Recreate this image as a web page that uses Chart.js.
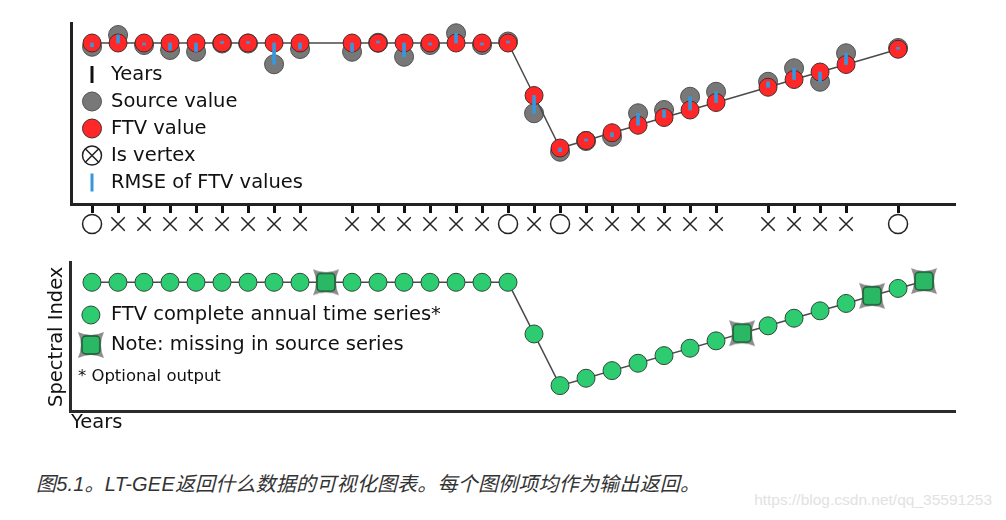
<!DOCTYPE html>
<html>
<head>
<meta charset="utf-8">
<script src="https://cdn.jsdelivr.net/npm/chart.js@4.4.1/dist/chart.umd.min.js"></script>
<style>
  html, body { margin: 0; padding: 0; background: #fff; }
  body { width: 1006px; height: 520px; position: relative; overflow: hidden; }
  #topChart { position: absolute; left: 0; top: 0; }
  #bottomChart { position: absolute; left: 0; top: 248px; }
  .caption {
    position: absolute; left: 36px; top: 472px; white-space: nowrap; letter-spacing: 0.2px;
    font: italic 20px/24px "Liberation Sans", Arial, "Noto Sans CJK SC", sans-serif; color: #333;
  }
  .watermark {
    position: absolute; right: 14px; top: 490px; white-space: nowrap;
    font: 15.5px/19px "Liberation Sans", Arial, sans-serif; color: #e2e2e2;
  }
</style>
</head>
<body>
<canvas id="topChart" width="1006" height="248"></canvas>
<canvas id="bottomChart" width="1006" height="192"></canvas>
<div class="caption">图5.1。LT-GEE返回什么数据的可视化图表。每个图例项均作为输出返回。</div>
<div class="watermark">https://blog.csdn.net/qq_35591253</div>
<script>
// --- data (spectral index x1000) ---
const YEARS = [1984, 1985, 1986, 1987, 1988, 1989, 1990, 1991, 1992, 1993, 1994,
               1995, 1996, 1997, 1998, 1999, 2000, 2001, 2002, 2003, 2004, 2005,
               2006, 2007, 2008, 2009, 2010, 2011, 2012, 2013, 2014, 2015, 2016];
// null = year missing in the source series
const SOURCE_VALUES = [785, 832, 792, 772, 765, 798, 798, 715, 776, null, 765,
                       801, 745, 792, 839, 792, 806, 519, 365, 408, 425, 519,
                       532, 585, 605, null, 645, 699, 645, 759, null, 780, null];
const FTV_VALUES = [800, 800, 800, 800, 800, 800, 800, 800, 800, 800, 800,
                    800, 800, 800, 800, 800, 800, 590, 380, 410, 441, 471,
                    502, 532, 562, 593, 623, 654, 684, 714, 745, 775, 805];
const VERTEX_YEARS = [1984, 2000, 2002, 2015];

const FONT = '"DejaVu Sans", Verdana, sans-serif';
const TEXT = '#111';
const AXIS = '#222';

const hasSource = yr => {
  const i = YEARS.indexOf(yr);
  return i >= 0 && SOURCE_VALUES[i] !== null;
};

// grey concave star with a green square on it: year filled in by FTV only
function makeMissingMarker() {
  const c = document.createElement('canvas');
  c.width = 28; c.height = 28;
  const g = c.getContext('2d');
  const m = 14, r = 13, k = 7;
  g.fillStyle = 'rgba(120,120,120,0.85)';
  g.beginPath();
  g.moveTo(m - r, m - r);
  g.quadraticCurveTo(m, m - k, m + r, m - r);
  g.quadraticCurveTo(m + k, m, m + r, m + r);
  g.quadraticCurveTo(m, m + k, m - r, m + r);
  g.quadraticCurveTo(m - k, m, m - r, m - r);
  g.fill();
  g.beginPath();
  g.roundRect(m - 9, m - 9, 18, 18, 4);
  g.fillStyle = '#2ab865';
  g.fill();
  g.lineWidth = 1.5;
  g.strokeStyle = '#1e5a35';
  g.stroke();
  return c;
}
const missingMarker = makeMissingMarker();

// --- top chart: source, FTV, RMSE and vertices ---
const topSource = [], topFtv = [], topRmse = [], topVertex = [];
YEARS.forEach((yr, i) => {
  if (SOURCE_VALUES[i] === null) return;
  topSource.push({ x: yr, y: SOURCE_VALUES[i] });
  topFtv.push({ x: yr, y: FTV_VALUES[i] });
  topRmse.push({ x: yr, y: [FTV_VALUES[i], SOURCE_VALUES[i]] });
  topVertex.push({ x: yr, y: 'vertex' });
});

function circle(ctx, x, y, r, fill, stroke, lw) {
  ctx.beginPath();
  ctx.arc(x, y, r, 0, Math.PI * 2);
  if (fill) { ctx.fillStyle = fill; ctx.fill(); }
  if (stroke) { ctx.lineWidth = lw; ctx.strokeStyle = stroke; ctx.stroke(); }
}

const TOP_LEGEND = [
  { label: 'Years', y: 74.5, sym: 'tick' },
  { label: 'Source value', y: 101.5, sym: 'source' },
  { label: 'FTV value', y: 128.5, sym: 'ftv' },
  { label: 'Is vertex', y: 155.5, sym: 'vertex' },
  { label: 'RMSE of FTV values', y: 182.5, sym: 'rmse' }
];

const topLegendPlugin = {
  id: 'topLegend',
  afterDraw(chart) {
    const ctx = chart.ctx;
    const sx = chart.chartArea.left + 21, tx = chart.chartArea.left + 40;
    ctx.save();
    TOP_LEGEND.forEach(item => {
      const y = item.y;
      if (item.sym === 'tick') {
        ctx.fillStyle = '#111'; ctx.fillRect(sx - 1.5, y - 8.5, 3, 17);
      } else if (item.sym === 'source') {
        circle(ctx, sx, y, 9.5, '#787878', '#505050', 1);
      } else if (item.sym === 'ftv') {
        circle(ctx, sx, y, 9.5, '#ff2828', '#4a2a2a', 1);
      } else if (item.sym === 'vertex') {
        circle(ctx, sx, y, 9.5, '#fff', '#222', 1.5);
        ctx.beginPath();
        ctx.moveTo(sx - 6.7, y - 6.7); ctx.lineTo(sx + 6.7, y + 6.7);
        ctx.moveTo(sx + 6.7, y - 6.7); ctx.lineTo(sx - 6.7, y + 6.7);
        ctx.stroke();
      } else if (item.sym === 'rmse') {
        ctx.fillStyle = '#3897dc'; ctx.fillRect(sx - 1.5, y - 9, 3, 18);
      }
      ctx.font = '19.5px ' + FONT;
      ctx.fillStyle = TEXT;
      ctx.textBaseline = 'middle';
      ctx.fillText(item.label, tx, y);
    });
    ctx.restore();
  }
};

new Chart(document.getElementById('topChart'), {
  type: 'scatter',
  data: {
    datasets: [
      {
        label: 'Is vertex', data: topVertex, yAxisID: 'y2', order: 1, clip: false,
        pointStyle: topVertex.map(p => VERTEX_YEARS.includes(p.x) ? 'circle' : 'crossRot'),
        pointRadius: 9.5, pointBorderWidth: 1.5,
        pointBackgroundColor: '#fff', pointBorderColor: '#222'
      },
      {
        type: 'bar', label: 'RMSE of FTV values', data: topRmse, order: 2, clip: false,
        backgroundColor: '#3897dc', borderWidth: 0, barThickness: 3, minBarLength: 2, grouped: false
      },
      {
        label: 'FTV value', data: topFtv, order: 3, clip: false, showLine: true,
        borderColor: '#4a4a4a', borderWidth: 1.5,
        pointRadius: 9, pointBorderWidth: 1,
        pointBackgroundColor: '#ff2828', pointBorderColor: '#4a2a2a'
      },
      {
        label: 'Source value', data: topSource, order: 4, clip: false,
        pointRadius: 9.5, pointBorderWidth: 1,
        pointBackgroundColor: '#787878', pointBorderColor: '#505050'
      }
    ]
  },
  options: {
    responsive: false,
    animation: false,
    events: [],
    layout: { autoPadding: false, padding: { left: 71, right: 51, top: 23, bottom: 4 } },
    plugins: { legend: { display: false }, tooltip: { enabled: false } },
    scales: {
      x: {
        type: 'linear', position: { y: 156 }, min: 1983.19, max: 2017.19, offset: false,
        // one tick mark per year that has a source value
        afterBuildTicks: scale => {
          scale.ticks = YEARS.filter(hasSource).map(v => ({ value: v }));
        },
        ticks: { display: false, autoSkip: false },
        grid: {
          offset: false, drawOnChartArea: false, drawTicks: true,
          tickLength: 7, tickWidth: 3, tickColor: '#111'
        },
        border: { display: true, color: AXIS, width: 3 }
      },
      y: {
        type: 'linear', min: 156, max: 880, stack: 'top', stackWeight: 181, weight: 1,
        ticks: { display: false }, grid: { display: false, drawTicks: false },
        border: { display: true, color: AXIS, width: 3 }
      },
      y2: {
        type: 'category', labels: ['vertex'], offset: true, stack: 'top', stackWeight: 40, weight: 0,
        ticks: { display: false }, grid: { display: false, drawTicks: false }, border: { display: false }
      }
    }
  },
  plugins: [topLegendPlugin]
});

// --- bottom chart: complete annual FTV series ---
const bottomFtv = YEARS.map((yr, i) => ({ x: yr, y: FTV_VALUES[i] }));

const BOTTOM_LEGEND = [
  { label: 'FTV complete annual time series*', y: 67, sym: 'green', size: 19.5 },
  { label: 'Note: missing in source series', y: 97, sym: 'missing', size: 19.5 },
  { label: '* Optional output', y: 128.7, sym: null, size: 16.5 }
];

const bottomLegendPlugin = {
  id: 'bottomLegend',
  afterDraw(chart) {
    const ctx = chart.ctx;
    const sx = chart.chartArea.left + 20, tx = chart.chartArea.left + 40;
    ctx.save();
    BOTTOM_LEGEND.forEach(item => {
      if (item.sym === 'green') circle(ctx, sx, item.y, 9, '#2ecc71', '#2d4a38', 1);
      if (item.sym === 'missing') ctx.drawImage(missingMarker, sx - 14, item.y - 14);
      ctx.font = item.size + 'px ' + FONT;
      ctx.fillStyle = TEXT;
      ctx.textBaseline = 'middle';
      ctx.fillText(item.label, item.sym ? tx : chart.chartArea.left + 7, item.y);
    });
    ctx.restore();
  }
};

new Chart(document.getElementById('bottomChart'), {
  type: 'scatter',
  data: {
    datasets: [{
      label: 'FTV complete annual time series', data: bottomFtv, clip: false, showLine: true,
      borderColor: '#4a4a4a', borderWidth: 1.5,
      pointStyle: bottomFtv.map(p => hasSource(p.x) ? 'circle' : missingMarker),
      pointRadius: 9, pointBorderWidth: 1,
      pointBackgroundColor: '#2ecc71', pointBorderColor: '#2d4a38'
    }]
  },
  options: {
    responsive: false,
    animation: false,
    events: [],
    layout: { autoPadding: false, padding: { left: 43.5, right: 51, top: 14, bottom: 5 } },
    plugins: { legend: { display: false }, tooltip: { enabled: false } },
    scales: {
      x: {
        type: 'linear', min: 1983.19, max: 2017.19,
        ticks: { display: false }, grid: { display: false, drawTicks: false },
        border: { display: true, color: '#2b2b2b', width: 3 },
        title: { display: true, text: 'Years', align: 'start', color: TEXT,
                 font: { family: FONT, size: 19.5 }, padding: { top: 0, bottom: 0 } }
      },
      y: {
        type: 'linear', min: 274.4, max: 882.5,
        ticks: { display: false }, grid: { display: false, drawTicks: false },
        border: { display: true, color: '#2b2b2b', width: 3 },
        title: { display: true, text: 'Spectral Index', color: TEXT,
                 font: { family: FONT, size: 19.5 }, padding: { top: 2, bottom: 2 } }
      }
    }
  },
  plugins: [bottomLegendPlugin]
});
</script>
</body>
</html>
